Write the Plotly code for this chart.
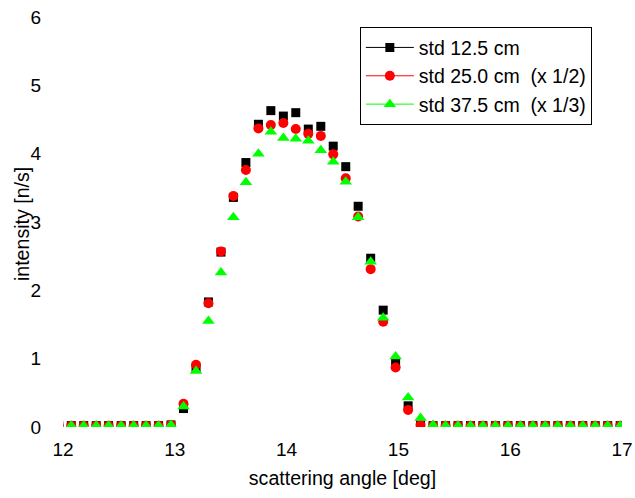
import plotly.graph_objects as go

# Scattering angle grid [deg]
angle = [11.962, 12.074, 12.185, 12.297, 12.408, 12.520, 12.632, 12.743, 12.855, 12.966,
         13.078, 13.190, 13.301, 13.413, 13.524, 13.636, 13.748, 13.859, 13.971, 14.082,
         14.194, 14.306, 14.417, 14.529, 14.640, 14.752, 14.864, 14.975, 15.087, 15.198,
         15.310, 15.422, 15.533, 15.645, 15.756, 15.868, 15.980, 16.091, 16.203, 16.314,
         16.426, 16.538, 16.649, 16.761, 16.872, 16.984]

base_lo = [0.02] * 9
base_hi = [0.02] * 15

# Intensity [n/s] for each source standard deviation (scaled as labelled)
std_125 = base_lo + [0.03, 0.27, 0.86, 1.83, 2.56, 3.36, 3.87, 4.43, 4.63, 4.55, 4.60,
                     4.36, 4.40, 4.11, 3.81, 3.23, 2.47, 1.71, 0.93, 0.31, 0.03, 0.02] + base_hi
std_250 = base_lo + [0.03, 0.34, 0.91, 1.81, 2.57, 3.38, 3.76, 4.37, 4.42, 4.45, 4.36,
                     4.29, 4.26, 3.99, 3.64, 3.08, 2.31, 1.54, 0.87, 0.25, 0.03, 0.02] + base_hi
std_375 = base_lo + [0.03, 0.30, 0.82, 1.55, 2.26, 3.07, 3.58, 4.00, 4.32, 4.23, 4.22,
                     4.19, 4.05, 3.88, 3.59, 3.07, 2.42, 1.60, 1.03, 0.43, 0.13, 0.03] + base_hi

x_ticks = [12, 13, 14, 15, 16, 17]
y_ticks = [0, 1, 2, 3, 4, 5, 6]

series = [
    ("std 12.5 cm", std_125, "#000000", "square", 9),
    ("std 25.0 cm\u00a0 (x 1/2)", std_250, "#ff0000", "circle", 10),
    ("std 37.5 cm\u00a0 (x 1/3)", std_375, "#00ff00", "triangle-up", 11),
]

fig = go.Figure()
for name, vals, color, sym, size in series:
    fig.add_trace(go.Scatter(
        x=angle, y=vals, mode="markers", name=name, showlegend=False,
        marker=dict(symbol=sym, size=size, color=color, line=dict(width=0)),
        cliponaxis=True,
    ))
# legend entries drawn with line + marker
for name, vals, color, sym, size in series:
    fig.add_trace(go.Scatter(
        x=[None], y=[None], mode="lines+markers", name=name,
        line=dict(color=color, width=1),
        marker=dict(symbol=sym, size=size, color=color, line=dict(width=0)),
    ))

font = "Liberation Sans, Arial, sans-serif"
fig.update_layout(
    width=635, height=498,
    margin=dict(l=63, r=13, t=17, b=71, autoexpand=False),
    plot_bgcolor="white", paper_bgcolor="white",
    font=dict(family=font, size=19, color="black"),
    showlegend=True,
    legend=dict(
        x=0.531, y=0.975, xanchor="left", yanchor="top",
        bgcolor="white", bordercolor="black", borderwidth=1,
        font=dict(size=19.5), tracegroupgap=0, itemwidth=48,
    ),
    xaxis=dict(
        range=[12, 17], tickvals=x_ticks, showgrid=False, zeroline=False,
        showline=False, ticks="outside", ticklen=5, tickcolor="rgba(0,0,0,0)",
        title=dict(text="scattering angle [deg]", font=dict(size=19.6), standoff=12),
        tickfont=dict(size=19), automargin=False,
    ),
    yaxis=dict(
        range=[0, 6], tickvals=y_ticks, showgrid=False, zeroline=False,
        showline=False, ticks="outside", ticklen=17, tickcolor="rgba(0,0,0,0)",
        tickfont=dict(size=19), automargin=False,
    ),
    annotations=[dict(
        text="intensity [n/s]", textangle=-90, showarrow=False,
        xref="paper", yref="paper", x=-0.0733, y=0.495,
        xanchor="center", yanchor="middle", font=dict(size=19.6),
    )],
)

fig.write_html("out.html")
